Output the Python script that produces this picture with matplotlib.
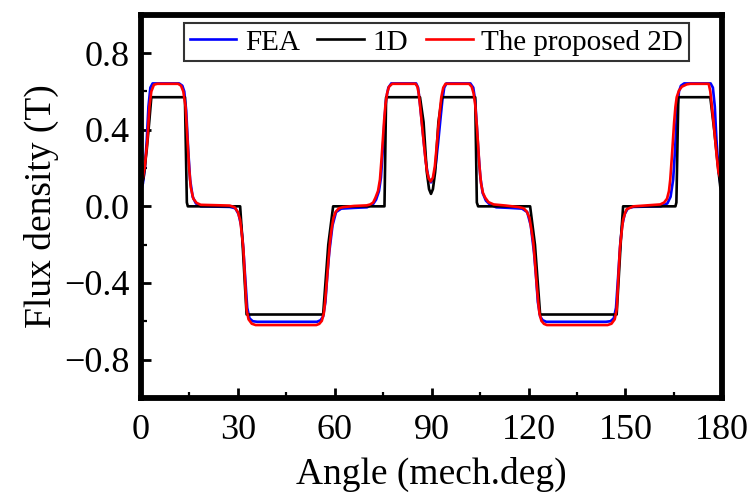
import matplotlib
matplotlib.use('Agg')
import matplotlib.pyplot as plt
from matplotlib.ticker import MultipleLocator

plt.rcParams['font.family'] = ['Liberation Serif', 'DejaVu Serif']

# FEA result (blue)
fea_angle = [0.0, 0.6, 1.2, 1.8, 2.3, 2.9, 3.6, 11.8, 12.8, 13.4, 14.0, 14.6, 15.2, 16.0, 17.0, 18.5,
             27.5, 29.2, 30.2, 31.0, 31.6, 32.3, 32.9, 33.6, 34.6, 36.0, 54.5, 55.6, 56.4, 57.1, 57.7,
             58.3, 59.3, 60.4, 62.0, 66.0, 70.0, 71.8, 72.8, 73.7, 74.3, 74.9, 75.4, 75.9, 76.6, 77.5,
             85.2, 85.8, 86.3, 86.9, 87.6, 88.3, 89.0, 89.8, 90.6, 91.3, 92.0, 92.7, 93.3, 93.9, 94.6,
             102.0, 102.9, 103.5, 104.0, 104.5, 105.1, 105.8, 106.8, 108.0, 110.0, 114.0, 118.0, 119.6,
             120.7, 121.7, 122.3, 122.9, 123.6, 124.4, 125.5, 144.0, 145.4, 146.4, 147.1, 147.7, 148.4,
             149.0, 149.8, 150.8, 152.5, 161.0, 163.0, 164.0, 164.8, 165.4, 166.0, 166.6, 167.2, 168.2,
             176.4, 177.1, 177.7, 178.2, 178.8, 179.4, 180.0]
fea_b = [0.08, 0.12, 0.20, 0.35, 0.52, 0.62, 0.642, 0.642, 0.63, 0.60, 0.50, 0.30, 0.14, 0.05, 0.015, 0.0,
         -0.003, -0.01, -0.04, -0.10, -0.20, -0.38, -0.53, -0.585, -0.60, -0.603, -0.603, -0.595, -0.575,
         -0.50, -0.36, -0.24, -0.10, -0.03, -0.012, -0.008, -0.005, 0.01, 0.035, 0.08, 0.15, 0.30, 0.45,
         0.56, 0.62, 0.642, 0.642, 0.62, 0.55, 0.45, 0.33, 0.22, 0.15, 0.125, 0.15, 0.22, 0.33, 0.45,
         0.55, 0.62, 0.642, 0.642, 0.62, 0.55, 0.42, 0.28, 0.15, 0.07, 0.03, 0.01, -0.005, -0.008, -0.012,
         -0.03, -0.10, -0.24, -0.36, -0.50, -0.575, -0.595, -0.603, -0.603, -0.60, -0.585, -0.53, -0.38,
         -0.20, -0.10, -0.04, -0.01, -0.003, 0.0, 0.015, 0.05, 0.14, 0.30, 0.50, 0.60, 0.63, 0.642,
         0.642, 0.62, 0.52, 0.35, 0.20, 0.12, 0.08]

# 1D model (black)
d1_angle = [0.0, 0.8, 1.8, 2.6, 3.2, 13.6, 14.2, 14.5, 30.7, 31.3, 32.7, 56.4, 58.0, 59.5, 75.4, 75.9,
            86.4, 87.5, 88.5, 89.2, 89.8, 90.4, 91.1, 92.1, 93.2, 103.5, 104.0, 104.4, 120.5, 122.0,
            123.6, 147.3, 148.7, 149.3, 165.5, 165.8, 166.4, 176.3, 177.5, 178.6, 179.4, 180.0]
d1_b = [0.09, 0.15, 0.30, 0.45, 0.57, 0.57, 0.02, 0.0, 0.0, -0.15, -0.565, -0.565, -0.20, 0.0, 0.0, 0.57,
        0.57, 0.44, 0.18, 0.09, 0.065, 0.09, 0.18, 0.44, 0.57, 0.57, 0.02, 0.0, 0.0, -0.20,
        -0.565, -0.565, -0.15, 0.0, 0.0, 0.02, 0.57, 0.57, 0.40, 0.22, 0.10, 0.06]

# proposed 2D model (red)
p2d_angle = [0.0, 0.6, 1.2, 2.0, 2.6, 3.2, 4.0, 5.0, 11.5, 12.4, 13.1, 13.8, 14.4, 14.9, 15.4, 16.2,
             17.2, 18.5, 27.5, 29.0, 30.0, 30.7, 31.2, 31.7, 32.2, 32.7, 33.3, 34.3, 35.5, 54.3, 55.2,
             56.0, 56.6, 57.0, 57.5, 58.0, 58.5, 59.0, 59.6, 60.3, 61.3, 62.6, 66.0, 69.9, 71.0, 71.9,
             72.6, 73.4, 74.0, 74.5, 74.9, 75.3, 75.7, 76.2, 76.8, 77.8, 85.0, 85.6, 86.0, 86.4, 87.0,
             87.5, 88.0, 88.5, 89.1, 89.7, 90.4, 91.0, 91.5, 92.0, 92.5, 93.0, 93.6, 94.3, 101.6, 102.4,
             103.0, 103.5, 104.0, 104.4, 104.8, 105.3, 105.9, 106.6, 107.6, 109.2, 113.0, 117.0, 118.5,
             119.5, 120.3, 120.9, 121.5, 122.0, 122.5, 123.0, 123.4, 124.0, 124.8, 125.7, 144.5, 145.7,
             146.7, 147.3, 147.8, 148.3, 148.8, 149.3, 150.0, 150.4, 152.5, 156.0, 160.8, 162.0, 162.9,
             163.5, 163.9, 164.4, 165.1, 165.5, 165.9, 166.6, 167.5, 169.0, 170.1, 175.8, 176.3, 176.8,
             177.3, 177.8, 178.3, 178.8, 179.4, 180.0]
p2d_b = [0.11, 0.15, 0.21, 0.35, 0.52, 0.60, 0.635, 0.64, 0.64, 0.63, 0.60, 0.52, 0.35, 0.20, 0.10, 0.04,
         0.018, 0.008, 0.004, -0.005, -0.03, -0.07, -0.14, -0.22, -0.38, -0.54, -0.59, -0.613, -0.62,
         -0.62, -0.614, -0.598, -0.56, -0.50, -0.40, -0.29, -0.19, -0.12, -0.06, -0.028, -0.01, -0.004,
         0.002, 0.005, 0.01, 0.02, 0.045, 0.08, 0.14, 0.25, 0.35, 0.45, 0.53, 0.59, 0.625, 0.64, 0.64,
         0.625, 0.59, 0.53, 0.43, 0.35, 0.26, 0.19, 0.145, 0.13, 0.15, 0.21, 0.30, 0.40, 0.49, 0.57,
         0.62, 0.64, 0.64, 0.625, 0.59, 0.53, 0.42, 0.32, 0.21, 0.12, 0.07, 0.045, 0.022, 0.01, 0.004,
         -0.004, -0.01, -0.028, -0.06, -0.12, -0.19, -0.29, -0.40, -0.50, -0.56, -0.598, -0.614, -0.62,
         -0.62, -0.613, -0.59, -0.54, -0.38, -0.22, -0.14, -0.07, -0.03, -0.015, 0.0, 0.004, 0.01, 0.02,
         0.04, 0.08, 0.14, 0.26, 0.44, 0.52, 0.57, 0.605, 0.625, 0.637, 0.64, 0.64, 0.60, 0.52, 0.44,
         0.35, 0.26, 0.18, 0.15, 0.13]

fig = plt.figure(figsize=(7.5, 4.96), dpi=100)
ax = fig.add_axes([0.188, 0.198, 0.775, 0.772])

ax.plot(fea_angle, fea_b, color='#0000ff', lw=1.9, label='FEA')
ax.plot(d1_angle, d1_b, color='black', lw=1.9, label='1D')
ax.plot(p2d_angle, p2d_b, color='#ff0000', lw=1.9, label='The proposed 2D')

ax.set_xlim(0, 180)
ax.set_ylim(-1.0, 1.0)
ax.xaxis.set_major_locator(MultipleLocator(30))
ax.xaxis.set_minor_locator(MultipleLocator(15))
ax.yaxis.set_major_locator(MultipleLocator(0.4))
ax.yaxis.set_minor_locator(MultipleLocator(0.2))
ax.set_yticks([-0.8, -0.4, 0.0, 0.4, 0.8])
ax.set_yticklabels(['\u22120.8', '\u22120.4', '0.0', '0.4', '0.8'])

ax.tick_params(which='major', direction='in', length=7, width=2, labelsize=26)
ax.tick_params(axis='x', which='major', pad=12)
ax.tick_params(axis='y', which='major', pad=8)
ax.tick_params(which='minor', direction='in', length=4, width=1.6)
for s in ax.spines.values():
    s.set_linewidth(4.2)

ax.set_xlabel('Angle (mech.deg)', fontsize=27, labelpad=7)
ax.set_ylabel('Flux density (T)', fontsize=27, labelpad=4)

leg = ax.legend(loc='upper center', bbox_to_anchor=(0.508, 0.978), ncol=3, fontsize=21,
                frameon=True, fancybox=False, edgecolor='black', handlelength=1.6,
                handletextpad=0.3, columnspacing=0.6, borderpad=0.2, borderaxespad=0.0)
leg.get_frame().set_linewidth(1.5)

fig.savefig('out.png', dpi=100)
